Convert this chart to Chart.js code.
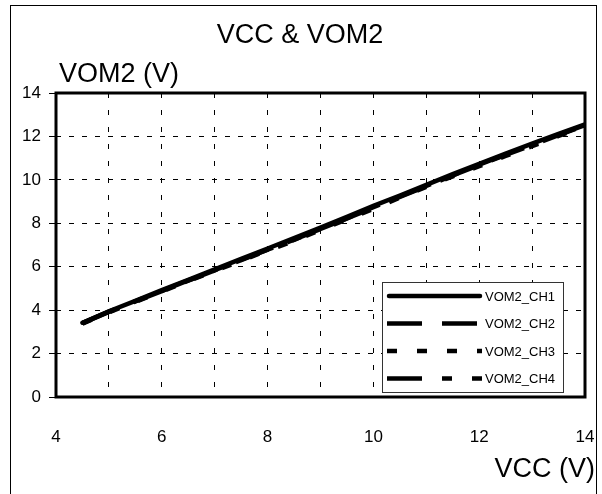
<!DOCTYPE html>
<html>
<head>
<meta charset="utf-8">
<script src="https://cdn.jsdelivr.net/npm/chart.js@4/dist/chart.umd.min.js"></script>
<style>
  body { margin: 0; background: #fff; }
  canvas { display: block; }
</style>
</head>
<body>
<canvas id="grafico" width="602" height="494"></canvas>
<script>
const vcc = [4.5, 5, 5.5, 6, 6.5, 7, 7.5, 8, 8.5, 9, 9.5, 10, 10.5, 11, 11.5, 12, 12.5, 13, 13.5, 14];
const ch1 = [3.42, 3.95, 4.43, 4.92, 5.40, 5.88, 6.36, 6.84, 7.32, 7.80, 8.30, 8.80, 9.28, 9.77, 10.26, 10.74, 11.21, 11.67, 12.12, 12.56];
const ch2 = [3.40, 3.92, 4.40, 4.88, 5.36, 5.83, 6.30, 6.78, 7.25, 7.73, 8.22, 8.72, 9.22, 9.71, 10.20, 10.68, 11.15, 11.60, 12.06, 12.50];
const ch3 = [3.38, 3.90, 4.38, 4.86, 5.34, 5.80, 6.28, 6.75, 7.18, 7.70, 8.18, 8.66, 9.18, 9.68, 10.16, 10.63, 11.10, 11.55, 12.02, 12.46];
const ch4 = [3.40, 3.93, 4.41, 4.89, 5.37, 5.84, 6.32, 6.79, 7.24, 7.74, 8.23, 8.74, 9.24, 9.72, 10.21, 10.70, 11.17, 11.62, 12.08, 12.52];
const nomes = ['VOM2_CH1', 'VOM2_CH2', 'VOM2_CH3', 'VOM2_CH4'];
const tracos = [[], [35, 20], [10, 20], [35, 20, 10, 20]];

const fonte = '"Liberation Sans", Arial, sans-serif';

function serie(i, valores) {
    return {
        label: nomes[i],
        data: vcc.map((x, k) => ({ x: x, y: valores[k] })),
        borderColor: '#000',
        backgroundColor: '#000',
        borderWidth: 4.5,
        borderDash: tracos[i],
        borderCapStyle: i === 0 ? 'round' : 'butt',
        pointRadius: 0,
        tension: 0
    };
}

// moldura, titulos e legenda desenhados a mao
const extras = {
    id: 'extras',
    beforeDraw(chart) {
        const c = chart.ctx;
        c.save();
        c.fillStyle = '#fff';
        c.fillRect(0, 0, chart.width, chart.height);
        c.strokeStyle = '#000';
        c.lineWidth = 1;
        c.strokeRect(10.5, 5.5, 586, 520);
        c.restore();
    },
    afterDraw(chart) {
        const c = chart.ctx;
        const a = chart.chartArea;
        c.save();
        c.strokeStyle = '#000';
        c.lineWidth = 3;
        c.strokeRect(a.left, a.top, a.right - a.left, a.bottom - a.top);

        c.fillStyle = '#000';
        c.font = '27px ' + fonte;
        c.textBaseline = 'middle';
        c.textAlign = 'center';
        c.fillText('VCC & VOM2', 300, 36);
        c.textAlign = 'left';
        c.fillText('VOM2 (V)', 59, 75);
        c.textAlign = 'right';
        c.fillText('VCC (V)', 595, 470);

        // legenda
        const lx = 382, ly = 282, lw = 181, lh = 110;
        c.fillStyle = '#fff';
        c.fillRect(lx, ly, lw, lh);
        c.strokeStyle = '#333';
        c.lineWidth = 1;
        c.strokeRect(lx + 0.5, ly + 0.5, lw, lh);
        c.font = '13px ' + fonte;
        c.textAlign = 'left';
        chart.data.datasets.forEach((ds, i) => {
            const y = 296 + i * 27.5;
            c.strokeStyle = '#000';
            c.lineWidth = 4.5;
            c.lineCap = ds.borderCapStyle;
            c.setLineDash(ds.borderDash);
            c.beginPath();
            c.moveTo(i === 0 ? 389 : 387, y);
            c.lineTo(i === 0 ? 480 : 482, y);
            c.stroke();
            c.setLineDash([]);
            c.fillStyle = '#000';
            c.fillText(ds.label, 485, y + 1);
        });
        c.restore();
    }
};

new Chart(document.getElementById('grafico').getContext('2d'), {
    type: 'line',
    data: {
        datasets: [serie(0, ch1), serie(1, ch2), serie(2, ch3), serie(3, ch4)]
    },
    options: {
        responsive: false,
        animation: false,
        layout: { padding: { left: 0, right: 17, top: 93, bottom: 0 } },
        plugins: {
            legend: { display: false },
            title: { display: false },
            tooltip: { enabled: false }
        },
        scales: {
            x: {
                type: 'linear',
                min: 4,
                max: 14,
                ticks: {
                    stepSize: 1,
                    padding: 30,
                    color: '#000',
                    font: { family: fonte, size: 17 },
                    maxRotation: 0,
                    autoSkip: false,
                    callback: v => (v % 2 === 0 ? v : '')
                },
                grid: { color: '#000', lineWidth: 1, drawTicks: false },
                border: { display: false, dash: [5, 12] },
                afterFit: s => { s.height = 97; s.paddingLeft = 0; s.paddingRight = 0; }
            },
            y: {
                min: 0,
                max: 14,
                ticks: {
                    stepSize: 2,
                    padding: 8,
                    color: '#000',
                    font: { family: fonte, size: 17 }
                },
                grid: { color: '#000', lineWidth: 1, drawTicks: true, tickLength: 7 },
                border: { display: false, dash: [5, 8] },
                afterFit: s => { s.width = 56; s.paddingTop = 0; s.paddingBottom = 0; }
            }
        }
    },
    plugins: [extras]
});
</script>
</body>
</html>
